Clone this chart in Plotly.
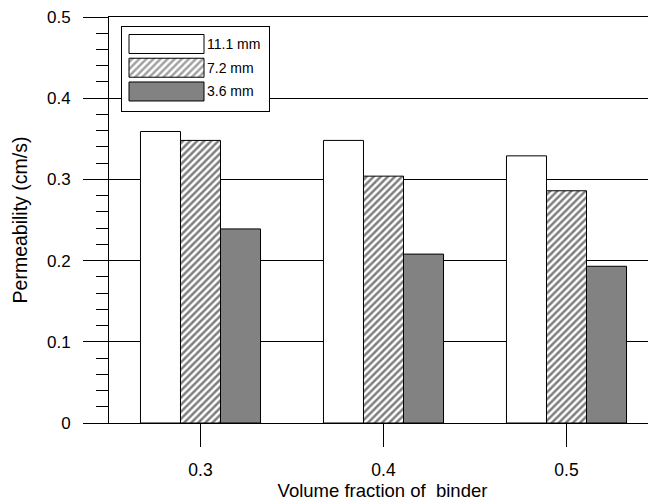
import plotly.graph_objects as go

# ---- data ----
binder_fraction = [0.3, 0.4, 0.5]
tick_labels = ["0.3", "0.4", "0.5"]
series_names = ["11.1 mm", "7.2 mm", "3.6 mm"]
perm_11_1 = [0.359, 0.348, 0.329]
perm_7_2 = [0.348, 0.304, 0.286]
perm_3_6 = [0.239, 0.208, 0.193]
y_ticks = [0, 0.1, 0.2, 0.3, 0.4, 0.5]
y_tick_labels = ["0", "0.1", "0.2", "0.3", "0.4", "0.5"]

FONT = "Liberation Sans, Arial, sans-serif"
GRAY = "#828282"

styles = [
    dict(color="white", pattern=dict(shape="")),
    dict(color="white", pattern=dict(shape="/", fgcolor="black", bgcolor="white", size=5, solidity=0.5)),
    dict(color=GRAY, pattern=dict(shape="")),
]
values = [perm_11_1, perm_7_2, perm_3_6]

fig = go.Figure()
for name, vals, st in zip(series_names, values, styles):
    fig.add_trace(go.Bar(
        x=binder_fraction, y=vals, name=name, showlegend=False,
        marker=dict(color=st["color"], pattern=st["pattern"],
                    line=dict(color="black", width=1)),
        xaxis="x", yaxis="y",
    ))

# legend drawn as an inset axis with swatch bars
fig.add_trace(go.Bar(
    x=[1, 1, 1], y=series_names, orientation="h", width=0.8,
    marker=dict(color=[s["color"] for s in styles],
                pattern=dict(shape=[s["pattern"]["shape"] for s in styles],
                             fgcolor="black", bgcolor=[s["color"] for s in styles],
                             size=5, solidity=0.5),
                line=dict(color="black", width=1)),
    text=series_names, textposition="outside", cliponaxis=False,
    textfont=dict(family=FONT, size=14, color="black"),
    showlegend=False, hoverinfo="skip",
    xaxis="x2", yaxis="y2",
))

# page has an 8px body margin: figure sits at (8, 8)
OFF = 8
W, H = 656 - OFF, 504 - OFF
L, R, T = 109 - OFF, 0, 17 - OFF
pw, ph = 547, 406
B = H - T - ph

def px_x(p):  # page pixel -> paper fraction
    return (p - 109) / pw

def px_y(p):
    return (423 - p) / ph

fig.update_layout(
    width=W, height=H,
    margin=dict(l=L, r=R, t=T, b=B, autoexpand=False),
    paper_bgcolor="white", plot_bgcolor="white",
    barmode="group", bargap=0.344, bargroupgap=0,
    font=dict(family=FONT, size=17, color="black"),
    xaxis=dict(
        range=[0.25, 0.25 + pw / 1830.0],
        tickvals=binder_fraction, ticktext=tick_labels,
        ticks="outside", ticklen=23, tickcolor="black", tickwidth=1,
        showline=True, linecolor="black", linewidth=1, mirror=True,
        showgrid=False, zeroline=False, automargin=False,
        tickfont=dict(size=17.5), ticklabelstandoff=8,
        title=dict(text="Volume fraction of\u00a0 binder", font=dict(size=18.5), standoff=0),
    ),
    yaxis=dict(
        range=[0, 0.5],
        tickvals=y_ticks, ticktext=y_tick_labels,
        ticks="outside", ticklen=25, tickcolor="black", tickwidth=1,
        showline=True, linecolor="black", linewidth=1,
        showgrid=True, gridcolor="black", gridwidth=1, zeroline=False,
        minor=dict(dtick=0.02, tick0=0, ticks="outside", ticklen=12,
                   tickcolor="black", tickwidth=1, showgrid=False),
        ticklabelstandoff=9, automargin=False, ticklabeloverflow="allow",
        tickfont=dict(size=17),
        title=dict(text="Permeability (cm/s)", font=dict(size=19.5), standoff=14),
    ),
    xaxis2=dict(
        domain=[px_x(121.7), px_x(269)],
        range=[-(129 - 121.7) / 75.0, (269 - 129) / 75.0],
        anchor="y2", showticklabels=False, ticks="", showgrid=False, zeroline=False,
        showline=True, linecolor="black", linewidth=1, mirror=True, fixedrange=True,
    ),
    yaxis2=dict(
        domain=[px_y(110.7), px_y(27)],
        range=[2 + 0.81, -0.716],
        categoryorder="array", categoryarray=series_names,
        anchor="x2", showticklabels=False, ticks="", showgrid=False, zeroline=False,
        showline=True, linecolor="black", linewidth=1, mirror=True, fixedrange=True,
    ),
)

fig.write_html("out.html")
